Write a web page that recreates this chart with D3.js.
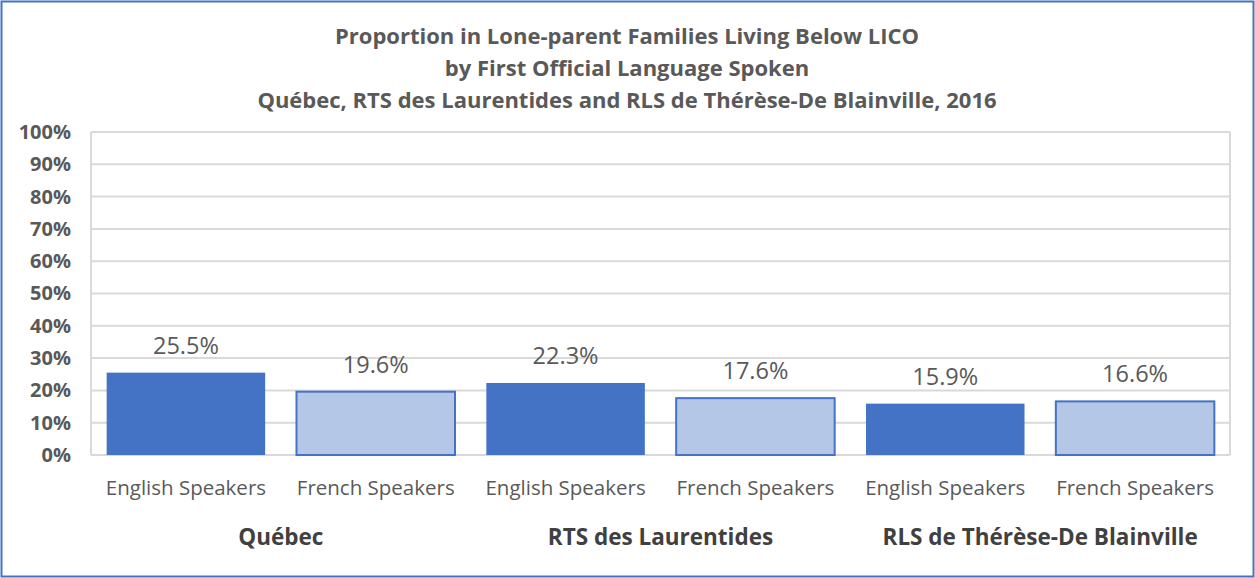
<!DOCTYPE html>
<html>
<head>
<meta charset="utf-8">
<script src="https://cdn.jsdelivr.net/npm/d3@7"></script>
<style>
  body { margin: 0; background: #fff; }
  text { font-family: "Open Sans", "Liberation Sans", sans-serif; }
</style>
</head>
<body>
<div class="board"></div>
<script>
// chart data
var groups = ['Québec', 'RTS des Laurentides', 'RLS de Thérèse-De Blainville'];
var speakers = ['English Speakers', 'French Speakers'];
var values = [25.5, 19.6, 22.3, 17.6, 15.9, 16.6];
var yTicks = [0, 10, 20, 30, 40, 50, 60, 70, 80, 90, 100];
var titleLines = [
  'Proportion  in Lone-parent Families Living Below LICO',
  'by First Official Language Spoken',
  'Québec, RTS des Laurentides and RLS de Thérèse-De Blainville, 2016'
];

var width = 1255;
var height = 578;
var plot = { left: 91, right: 1230, top: 132, bottom: 455 };

var svg = d3.select('.board')
            .append('svg')
            .attr('width', width)
            .attr('height', height);

// outer frame
svg.append('rect')
   .attr('x', 1.5).attr('y', 1.5)
   .attr('width', width - 3).attr('height', height - 3)
   .style('fill', 'white')
   .style('stroke', '#4472C4')
   .style('stroke-width', 2);

// title
svg.append('g').selectAll('text')
   .data(titleLines)
   .enter()
   .append('text')
   .attr('x', 627)
   .attr('y', function(d, i) { return 44 + i * 32; })
   .attr('text-anchor', 'middle')
   .style('font-size', '22px')
   .style('font-weight', 'bold')
   .style('fill', '#595959')
   .text(function(d) { return d; });

var cats = [];
groups.forEach(function(g) {
  speakers.forEach(function(s) { cats.push(g + '|' + s); });
});

var x = d3.scaleBand()
          .domain(cats)
          .range([plot.left, plot.right])
          .paddingInner(0.165)
          .paddingOuter(0.0825);

var y = d3.scaleLinear()
          .domain([0, 100])
          .range([plot.bottom, plot.top]);

// gridlines
svg.append('g').selectAll('line')
   .data(yTicks)
   .enter()
   .append('line')
   .attr('x1', plot.left).attr('x2', plot.right)
   .attr('y1', function(d) { return y(d); })
   .attr('y2', function(d) { return y(d); })
   .style('stroke', '#D9D9D9')
   .style('stroke-width', 2);

// plot sides
svg.append('g').selectAll('line')
   .data([plot.left, plot.right])
   .enter()
   .append('line')
   .attr('x1', function(d) { return d; })
   .attr('x2', function(d) { return d; })
   .attr('y1', plot.top).attr('y2', plot.bottom)
   .style('stroke', '#D9D9D9')
   .style('stroke-width', 2);

// y axis labels
var yAxis = d3.axisLeft(y)
              .tickValues(yTicks)
              .tickSize(0)
              .tickPadding(20)
              .tickFormat(function(d) { return d + '%'; });

var yg = svg.append('g')
            .attr('transform', 'translate(' + plot.left + ',0)')
            .call(yAxis);
yg.select('.domain').remove();
yg.selectAll('text')
  .style('font-size', '20px')
  .style('font-weight', 'bold')
  .style('fill', '#595959')
  .style('font-family', '"Open Sans", sans-serif');

// bars
svg.append('g').selectAll('rect')
   .data(values)
   .enter()
   .append('rect')
   .attr('x', function(d, i) { return x(cats[i]); })
   .attr('y', function(d) { return y(d); })
   .attr('width', x.bandwidth())
   .attr('height', function(d) { return y(0) - y(d); })
   .style('fill', function(d, i) { return i % 2 === 0 ? '#4472C4' : '#B4C7E7'; })
   .style('stroke', '#4472C4')
   .style('stroke-width', function(d, i) { return i % 2 === 0 ? 0 : 2; });

// value labels
svg.append('g').selectAll('text')
   .data(values)
   .enter()
   .append('text')
   .attr('x', function(d, i) { return x(cats[i]) + x.bandwidth() / 2; })
   .attr('y', function(d) { return y(d) - 19; })
   .attr('text-anchor', 'middle')
   .style('font-size', '23.5px')
   .style('fill', '#595959')
   .text(function(d) { return d.toFixed(1) + '%'; });

// category labels
svg.append('g').selectAll('text')
   .data(cats)
   .enter()
   .append('text')
   .attr('x', function(d) { return x(d) + x.bandwidth() / 2; })
   .attr('y', 495)
   .attr('text-anchor', 'middle')
   .style('font-size', '20.5px')
   .style('fill', '#595959')
   .text(function(d) { return d.split('|')[1]; });

// group labels
var step = x.step();
svg.append('g').selectAll('text')
   .data(groups)
   .enter()
   .append('text')
   .attr('x', function(d, i) { return x(cats[i * 2]) + x.bandwidth() + (step - x.bandwidth()) / 2; })
   .attr('y', 545)
   .attr('text-anchor', 'middle')
   .style('font-size', '22.5px')
   .style('font-weight', 'bold')
   .style('fill', '#404040')
   .text(function(d) { return d; });
</script>
</body>
</html>
